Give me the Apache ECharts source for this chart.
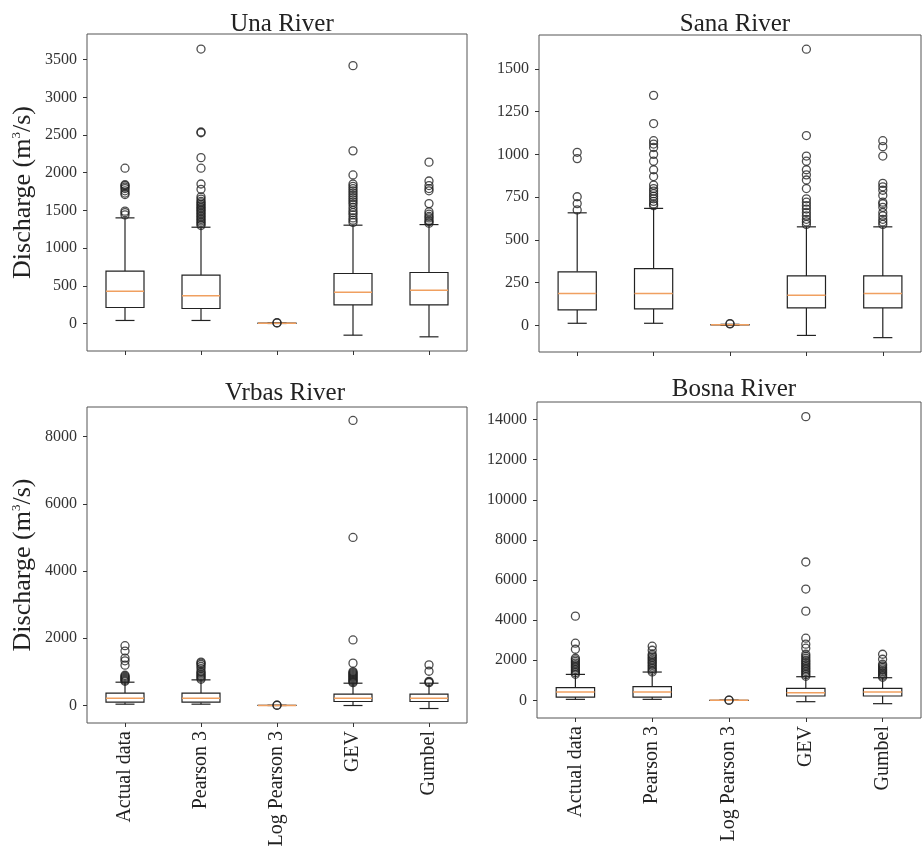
<!DOCTYPE html>
<html>
<head>
<meta charset="utf-8">
<script src="https://cdn.jsdelivr.net/npm/echarts@6/dist/echarts.min.js"></script>
<style>
  html, body { margin: 0; padding: 0; background: #fff; }
  #chart { width: 922px; height: 854px; }
</style>
</head>
<body>
<div id="chart"></div>
<script>
// categories and rivers
const categories = ['Actual data', 'Pearson 3', 'Log Pearson 3', 'GEV', 'Gumbel']
const rivers = ['Una River', 'Sana River', 'Vrbas River', 'Bosna River']

// box values per category: [low whisker, Q1, median, Q3, high whisker]
const unaBoxes = [[40, 212, 429, 694, 1401], [40, 199, 367, 641, 1277], [0, 2, 3, 4, 6], [-155, 247, 415, 663, 1304], [-177, 247, 442, 676, 1312]]
const sanaBoxes = [[12, 90, 186, 313, 658], [12, 96, 186, 332, 684], [0, 2, 3, 4, 6], [-59, 102, 176, 289, 576], [-72, 102, 186, 289, 576]]
const vrbasBoxes = [[40, 100, 218, 367, 694], [40, 100, 218, 367, 763], [0, 2, 3, 4, 6], [0, 119, 218, 337, 664], [-89, 119, 218, 337, 664]]
const bosnaBoxes = [[50, 166, 415, 631, 1295], [50, 166, 415, 681, 1412], [0, 2, 3, 4, 6], [-66, 216, 382, 598, 1179], [-166, 216, 415, 598, 1129]]

// outliers per category
const unaOutliers = [
  [1440, 1470, 1490, 1710, 1730, 1760, 1790, 1810, 1830, 1840, 2060],
  [1300, 1320, 1340, 1360, 1380, 1400, 1420, 1440, 1460, 1480, 1500, 1520, 1540, 1560, 1580, 1600, 1620, 1650, 1680, 1780, 1850, 2060, 2200, 2530, 2540, 3640],
  [8, 10],
  [1340, 1370, 1400, 1440, 1470, 1500, 1540, 1580, 1610, 1640, 1670, 1700, 1730, 1760, 1790, 1820, 1850, 1970, 2290, 3420],
  [1330, 1350, 1370, 1400, 1420, 1450, 1480, 1590, 1760, 1790, 1830, 1890, 2140]
]
const sanaOutliers = [
  [675, 712, 752, 975, 1012],
  [700, 710, 725, 740, 755, 770, 785, 800, 820, 870, 910, 960, 1000, 1040, 1060, 1080, 1180, 1345],
  [8, 10],
  [590, 605, 620, 640, 660, 680, 700, 720, 740, 800, 850, 880, 910, 960, 990, 1110, 1615],
  [590, 605, 620, 640, 660, 690, 710, 720, 760, 790, 810, 830, 990, 1045, 1080]
]
const vrbasOutliers = [
  [720, 750, 780, 810, 840, 870, 900, 1200, 1330, 1410, 1620, 1780],
  [780, 820, 860, 900, 940, 980, 1020, 1100, 1160, 1220, 1260, 1290],
  [8, 10],
  [680, 710, 740, 770, 800, 830, 860, 890, 920, 950, 980, 1010, 1260, 1950, 5000, 8480],
  [680, 700, 720, 1020, 1210]
]
const bosnaOutliers = [
  [1300, 1380, 1460, 1540, 1620, 1700, 1780, 1860, 1940, 2020, 2100, 2550, 2850, 4200],
  [1420, 1500, 1580, 1660, 1740, 1820, 1900, 1980, 2060, 2140, 2220, 2300, 2500, 2700],
  [8, 10],
  [1200, 1280, 1360, 1440, 1520, 1600, 1680, 1760, 1840, 1920, 2000, 2100, 2200, 2300, 2600, 2800, 3100, 4450, 5550, 6900, 14150],
  [1150, 1220, 1290, 1360, 1430, 1500, 1570, 1640, 1720, 1800, 2050, 2300]
]

// y tick labels
const unaTicks = [0, 500, 1000, 1500, 2000, 2500, 3000, 3500]
const sanaTicks = [0, 250, 500, 750, 1000, 1250, 1500]
const vrbasTicks = [0, 2000, 4000, 6000, 8000]
const bosnaTicks = [0, 2000, 4000, 6000, 8000, 10000, 12000, 14000]

const boxes = [unaBoxes, sanaBoxes, vrbasBoxes, bosnaBoxes]
const outliers = [unaOutliers, sanaOutliers, vrbasOutliers, bosnaOutliers]
const ticks = [unaTicks, sanaTicks, vrbasTicks, bosnaTicks]
const yRanges = [[-365, 3840], [-156, 1698], [-520, 8880], [-880, 14880]]

const serif = '"Liberation Serif", "Times New Roman", serif'

const grids = [
  { left: 87, top: 34, width: 380, height: 317 },
  { left: 539, top: 35, width: 382, height: 317 },
  { left: 87, top: 407, width: 380, height: 316 },
  { left: 537, top: 402, width: 384, height: 316 }
]
const titlePos = [[277, 7], [730, 7], [280, 376], [729, 372]]

// draws box, whiskers, caps and the orange median
function renderBox(params, api) {
  const i = api.value(0)
  const lo = api.coord([i, api.value(1)])
  const q1 = api.coord([i, api.value(2)])
  const md = api.coord([i, api.value(3)])
  const q3 = api.coord([i, api.value(4)])
  const hi = api.coord([i, api.value(5)])
  const band = api.size([1, 0])[0]
  const w = band * 0.5
  const cw = band * 0.25
  const x = lo[0]
  const line = { stroke: '#222', lineWidth: 1.2 }
  return {
    type: 'group',
    children: [
      { type: 'line', shape: { x1: x, y1: lo[1], x2: x, y2: q1[1] }, style: line },
      { type: 'line', shape: { x1: x, y1: q3[1], x2: x, y2: hi[1] }, style: line },
      { type: 'line', shape: { x1: x - cw / 2, y1: lo[1], x2: x + cw / 2, y2: lo[1] }, style: line },
      { type: 'line', shape: { x1: x - cw / 2, y1: hi[1], x2: x + cw / 2, y2: hi[1] }, style: line },
      { type: 'rect', shape: { x: x - w / 2, y: q3[1], width: w, height: q1[1] - q3[1] }, style: { fill: '#fff', stroke: '#222', lineWidth: 1.2 } },
      { type: 'line', shape: { x1: x - w / 2, y1: md[1], x2: x + w / 2, y2: md[1] }, style: { stroke: '#f0a060', lineWidth: 1.5 } }
    ]
  }
}

const option = {
  backgroundColor: '#fff',
  animation: false,
  title: rivers.map((r, k) => ({
    text: r,
    left: titlePos[k][0],
    top: titlePos[k][1],
    textAlign: 'center',
    textStyle: { fontFamily: serif, fontSize: 25, fontWeight: 'normal', color: '#222' }
  })),
  grid: grids.map(g => Object.assign({ show: true, borderColor: '#555', borderWidth: 1, backgroundColor: '#fff' }, g)),
  xAxis: rivers.map((r, k) => ({
    type: 'category',
    gridIndex: k,
    data: categories,
    axisLine: { show: false, onZero: false },
    axisTick: { show: true, alignWithLabel: true, length: 4, lineStyle: { color: '#333' } },
    axisLabel: {
      show: k >= 2,
      rotate: 90,
      margin: 8,
      fontFamily: serif,
      fontSize: 20,
      color: '#222'
    },
    splitLine: { show: false }
  })),
  yAxis: rivers.map((r, k) => ({
    type: 'value',
    gridIndex: k,
    min: yRanges[k][0],
    max: yRanges[k][1],
    axisLine: { show: false },
    axisTick: { show: true, length: 4, customValues: ticks[k], lineStyle: { color: '#333' } },
    axisLabel: {
      customValues: ticks[k],
      formatter: v => String(v),
      margin: 10,
      fontFamily: serif,
      fontSize: 16,
      color: '#333'
    },
    splitLine: { show: false },
    name: k % 2 === 0 ? '{a|Discharge (m}{s|3}{a|/s)}' : '',
    nameLocation: 'middle',
    nameRotate: 90,
    nameGap: 51,
    nameTextStyle: {
      rich: {
        a: { fontFamily: serif, fontSize: 26, color: '#222' },
        s: { fontFamily: serif, fontSize: 13, color: '#222', verticalAlign: 'top', padding: [0, 0, 12, 0] }
      }
    }
  })),
  series: []
}

boxes.forEach((bx, k) => {
  option.series.push({
    type: 'scatter',
    xAxisIndex: k,
    yAxisIndex: k,
    symbol: 'circle',
    symbolSize: 8,
    itemStyle: { color: 'rgba(0,0,0,0)', borderColor: '#222', borderWidth: 1.3 },
    data: outliers[k].flatMap((vals, i) => vals.map(v => [i, v]))
  })
  option.series.push({
    type: 'custom',
    xAxisIndex: k,
    yAxisIndex: k,
    renderItem: renderBox,
    encode: { x: 0, y: [1, 2, 3, 4, 5] },
    data: bx.map((b, i) => [i].concat(b)),
    z: 1
  })
})

const myChart = echarts.init(document.getElementById('chart'))
myChart.setOption(option)
</script>
</body>
</html>
